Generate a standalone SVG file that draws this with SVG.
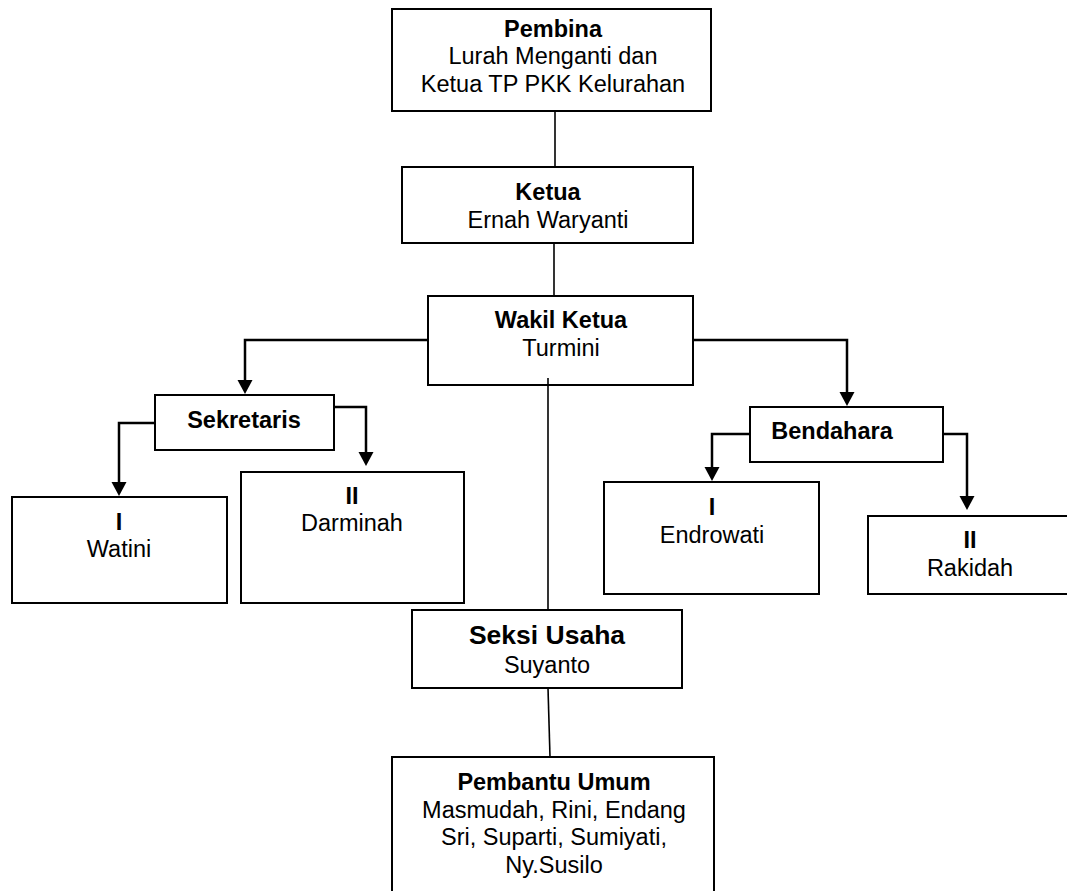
<svg xmlns="http://www.w3.org/2000/svg" width="1067" height="891" viewBox="0 0 1067 891">
<style>
.box{fill:#fff;stroke:#000;stroke-width:2}
.t{font-family:"Liberation Sans",Arial,sans-serif;font-size:23.5px;fill:#000;text-anchor:middle}
.b{font-weight:bold}
.big{font-size:26.5px}
.arr{fill:none;stroke:#000;stroke-width:2.5;stroke-linejoin:miter}
.ln{fill:none;stroke:#000;stroke-width:1.6}
</style>
<defs>
<marker id="ah" markerUnits="userSpaceOnUse" markerWidth="15" markerHeight="15" refX="0" refY="7.5" orient="auto" overflow="visible">
<path d="M0,0 L14,7.5 L0,15 z" fill="#000"/>
</marker>
</defs>
<rect width="1067" height="891" fill="#fff"/>
<g id="pembina">
<rect class="box" x="392" y="9" width="319" height="102"/>
<text class="t b" x="553" y="37">Pembina</text>
<text class="t" x="553" y="64">Lurah Menganti dan</text>
<text class="t" x="553" y="92">Ketua TP PKK Kelurahan</text>
</g>
<g id="ketua">
<rect class="box" x="402" y="167" width="291" height="76"/>
<text class="t b" x="548" y="200">Ketua</text>
<text class="t" x="548" y="228">Ernah Waryanti</text>
</g>
<g id="wakil">
<rect class="box" x="428" y="296" width="265" height="89"/>
<text class="t b" x="561" y="328">Wakil Ketua</text>
<text class="t" x="561" y="356">Turmini</text>
</g>
<g id="sekretaris">
<rect class="box" x="155" y="395" width="179" height="55"/>
<text class="t b" x="244" y="428">Sekretaris</text>
</g>
<g id="sek1">
<rect class="box" x="12" y="497" width="215" height="106"/>
<text class="t b" x="119" y="530">I</text>
<text class="t" x="119" y="557">Watini</text>
</g>
<g id="sek2">
<rect class="box" x="241" y="472" width="223" height="131"/>
<text class="t b" x="352" y="504">II</text>
<text class="t" x="352" y="531">Darminah</text>
</g>
<g id="bendahara">
<rect class="box" x="750" y="407" width="193" height="55"/>
<text class="t b" x="832" y="439">Bendahara</text>
</g>
<g id="ben1">
<rect class="box" x="604" y="482" width="215" height="112"/>
<text class="t b" x="712" y="515">I</text>
<text class="t" x="712" y="543">Endrowati</text>
</g>
<g id="ben2">
<rect class="box" x="868" y="516" width="210" height="78"/>
<text class="t b" x="970" y="548">II</text>
<text class="t" x="970" y="576">Rakidah</text>
</g>
<g id="seksi">
<rect class="box" x="412" y="610" width="270" height="78"/>
<text class="t b big" x="547" y="644">Seksi Usaha</text>
<text class="t" x="547" y="673">Suyanto</text>
</g>
<g id="pembantu">
<rect class="box" x="392" y="757" width="322" height="150"/>
<text class="t b" x="554" y="790">Pembantu Umum</text>
<text class="t" x="554" y="818">Masmudah, Rini, Endang</text>
<text class="t" x="554" y="845">Sri, Suparti, Sumiyati,</text>
<text class="t" x="554" y="873">Ny.Susilo</text>
</g>
<g id="connectors">
<line class="ln" x1="555" y1="111" x2="555" y2="167"/>
<line class="ln" x1="554" y1="243" x2="554" y2="296"/>
<line class="ln" x1="548" y1="378" x2="548" y2="610"/>
<line class="ln" x1="548" y1="688" x2="550" y2="757"/>
<path class="arr" d="M428,340 H245 V380" marker-end="url(#ah)"/>
<path class="arr" d="M693,340 H847 V392" marker-end="url(#ah)"/>
<path class="arr" d="M155,423 H119 V482" marker-end="url(#ah)"/>
<path class="arr" d="M334,407 H366 V452" marker-end="url(#ah)"/>
<path class="arr" d="M750,434 H712 V467" marker-end="url(#ah)"/>
<path class="arr" d="M943,434 H967 V496" marker-end="url(#ah)"/>
</g>
</svg>
